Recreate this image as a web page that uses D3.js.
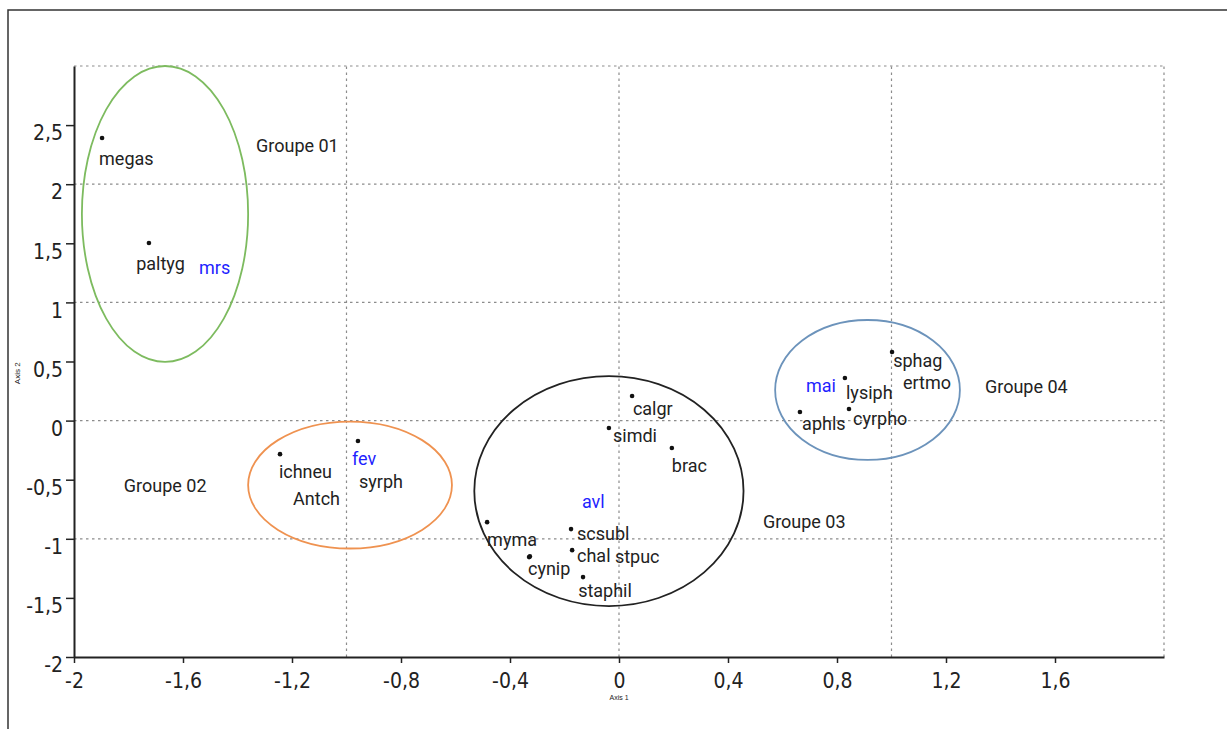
<!DOCTYPE html>
<html>
<head>
<meta charset="utf-8">
<script src="https://cdn.jsdelivr.net/npm/d3@7"></script>
<style>
    body { margin: 0; background: #fff; }
    svg { display: block; }
    .tick text { font-family: "Liberation Sans Narrow", "DejaVu Sans Condensed", sans-serif; font-size: 21px; fill: #222; }
    .lbl { font-family: Roboto, "Noto Sans", sans-serif; font-size: 18px; fill: #222; }
</style>
</head>
<body>
<div id="chart"></div>
<script>
// species points (Axis 1, Axis 2)
const points = [
    ["megas", -1.897, 2.391],
    ["paltyg", -1.725, 1.503],
    ["ichneu", -1.244, -0.284],
    ["fev", -0.958, -0.173],
    ["calgr", 0.048, 0.208],
    ["simdi", -0.037, -0.063],
    ["brac", 0.194, -0.232],
    ["myma", -0.484, -0.859],
    ["scsubl", -0.176, -0.918],
    ["chal", -0.172, -1.096],
    ["cynip", -0.330, -1.155],
    ["cynip2", -0.327, -1.149],
    ["staphil", -0.132, -1.324],
    ["sphag", 1.002, 0.580],
    ["lysiph", 0.829, 0.360],
    ["aphls", 0.664, 0.073],
    ["cyrpho", 0.844, 0.098],
];

// text labels: [text, x, y, isMonth]
const labels = [
    ["megas", -1.908, 2.162, false],
    ["paltyg", -1.772, 1.277, false],
    ["mrs", -1.541, 1.240, true],
    ["ichneu", -1.248, -0.487, false],
    ["Antch", -1.196, -0.715, false],
    ["fev", -0.980, -0.376, true],
    ["syrph", -0.954, -0.571, false],
    ["calgr", 0.051, 0.047, false],
    ["simdi", -0.022, -0.181, false],
    ["brac", 0.194, -0.435, false],
    ["avl", -0.136, -0.739, true],
    ["myma", -0.484, -1.062, false],
    ["scsubl", -0.154, -1.010, false],
    ["chal", -0.154, -1.196, false],
    ["stpuc", -0.015, -1.205, false],
    ["cynip", -0.334, -1.307, false],
    ["staphil", -0.150, -1.494, false],
    ["sphag", 1.006, 0.453, false],
    ["ertmo", 1.042, 0.267, false],
    ["mai", 0.686, 0.242, true],
    ["lysiph", 0.833, 0.183, false],
    ["aphls", 0.672, -0.079, false],
    ["cyrpho", 0.859, -0.037, false],
];

// groups: [name, labelX, labelY, cx, cy, rx, ry, colour]
const groups = [
    ["Groupe 01", -1.332, 2.272, -1.666, 1.748, 0.305, 1.252, "#7dbb5f"],
    ["Groupe 02", -1.817, -0.604, -0.987, -0.545, 0.374, 0.537, "#ef9250"],
    ["Groupe 03", 0.528, -0.909, -0.037, -0.596, 0.494, 0.973, "#222"],
    ["Groupe 04", 1.343, 0.233, 0.912, 0.259, 0.339, 0.592, "#6c93bb"],
];

const xTicks = [-2, -1.6, -1.2, -0.8, -0.4, 0, 0.4, 0.8, 1.2, 1.6];
const yTicks = [-2, -1.5, -1, -0.5, 0, 0.5, 1, 1.5, 2, 2.5];
const xGrid = [-1, 0, 1, 2];
const yGrid = [-1, 0, 1, 2, 3];

const W = 1227, H = 729;
const svg = d3.select("#chart").append("svg").attr("width", W).attr("height", H);

const x = d3.scaleLinear().domain([-2, 2]).range([74, 1164]);
const y = d3.scaleLinear().domain([-2, 3]).range([657, 66]);
const fmt = (v) => String(+v.toFixed(1)).replace(".", ",");

// outer frame (top + left only)
svg.append("path")
    .attr("d", `M8,${H}V10H${W}`)
    .attr("fill", "none")
    .attr("stroke", "#333")
    .attr("stroke-width", 1.5);

// dashed grid
const grid = svg.append("g")
    .attr("stroke", "#8c8c8c")
    .attr("stroke-width", 1.2)
    .attr("stroke-dasharray", "2.5,3.5");
grid.selectAll(".gx").data(xGrid).join("line")
    .attr("x1", (d) => x(d)).attr("x2", (d) => x(d))
    .attr("y1", y(-2)).attr("y2", y(3));
grid.selectAll(".gy").data(yGrid).join("line")
    .attr("x1", x(-2)).attr("x2", x(2))
    .attr("y1", (d) => y(d)).attr("y2", (d) => y(d));

// axes
const xAxis = svg.append("g")
    .attr("transform", `translate(0,${y(-2)})`)
    .call(d3.axisBottom(x).tickValues(xTicks).tickFormat(fmt).tickSize(6).tickSizeOuter(0).tickPadding(10));
const yAxis = svg.append("g")
    .attr("transform", `translate(${x(-2)},0)`)
    .call(d3.axisLeft(y).tickValues(yTicks).tickFormat(fmt).tickSize(8).tickSizeOuter(0).tickPadding(3));
yAxis.selectAll(".tick text").attr("dy", "0.7em");
[xAxis, yAxis].forEach((a) => {
    a.select(".domain").attr("stroke", "#222").attr("stroke-width", 2);
    a.selectAll(".tick line").attr("stroke", "#222").attr("stroke-width", 1.5);
});

// axis titles
svg.append("text")
    .attr("x", x(0)).attr("y", 700)
    .attr("text-anchor", "middle")
    .attr("font-family", "Liberation Sans Narrow, sans-serif")
    .attr("font-size", "7px").attr("fill", "#222")
    .text("Axis 1");
svg.append("text")
    .attr("transform", `translate(20,${y(0.4)}) rotate(-90)`)
    .attr("text-anchor", "middle")
    .attr("font-family", "Liberation Sans Narrow, sans-serif")
    .attr("font-size", "8px").attr("fill", "#222")
    .text("Axis 2");

// group ellipses
svg.append("g").selectAll("ellipse").data(groups).join("ellipse")
    .attr("cx", (d) => x(d[3]))
    .attr("cy", (d) => y(d[4]))
    .attr("rx", (d) => x(d[3] + d[5]) - x(d[3]))
    .attr("ry", (d) => y(d[4] - d[6]) - y(d[4]))
    .attr("fill", "none")
    .attr("stroke", (d) => d[7])
    .attr("stroke-width", 1.8);

// group names
svg.append("g").selectAll("text").data(groups).join("text")
    .attr("class", "lbl")
    .attr("x", (d) => x(d[1]))
    .attr("y", (d) => y(d[2]))
    .text((d) => d[0]);

// points
svg.append("g").selectAll("circle").data(points).join("circle")
    .attr("cx", (d) => x(d[1]))
    .attr("cy", (d) => y(d[2]))
    .attr("r", 2.3)
    .attr("fill", "#111");

// labels
svg.append("g").selectAll("text").data(labels).join("text")
    .attr("class", "lbl")
    .attr("x", (d) => x(d[1]))
    .attr("y", (d) => y(d[2]))
    .style("fill", (d) => (d[3] ? "#1f1fff" : "#222"))
    .text((d) => d[0]);
</script>
</body>
</html>
